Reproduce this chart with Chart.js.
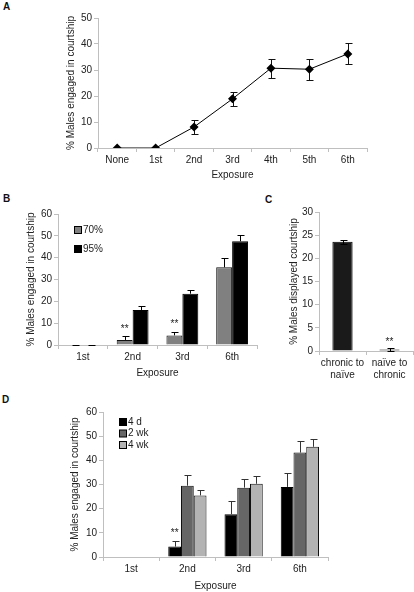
<!DOCTYPE html>
<html>
<head>
<meta charset="utf-8">
<script src="https://cdn.jsdelivr.net/npm/chart.js@4"></script>
<style>
  body { margin: 0; background: #fff; width: 414px; height: 592px; position: relative; overflow: hidden; font-family: "Liberation Sans", Arial, sans-serif; }
  canvas { position: absolute; }
  .tag { position: absolute; font-weight: bold; font-size: 10px; color: #111; }
</style>
</head>
<body>
<div class="tag" style="left:3px;top:1px">A</div>
<div class="tag" style="left:3px;top:193px">B</div>
<div class="tag" style="left:265px;top:194px">C</div>
<div class="tag" style="left:2px;top:394px">D</div>
<canvas id="chartA" width="349" height="181" style="left:65px;top:0px"></canvas>
<canvas id="chartB" width="245" height="189" style="left:25px;top:190px"></canvas>
<canvas id="chartC" width="126" height="195" style="left:288px;top:190px"></canvas>
<canvas id="chartD" width="280" height="200" style="left:69px;top:392px"></canvas>
<script>
// ==== Data ====
const yTitle = '% Males engaged in courtship';

// panel A
const exposureA = ['None', '1st', '2nd', '3rd', '4th', '5th', '6th'];
const courtshipA = [0, 0, 8.1, 18.9, 30.7, 30.3, 36.2];
const errA = [null, null, 2.6, 2.6, 3.7, 4.1, 4.0];

// panel B
const exposureB = ['1st', '2nd', '3rd', '6th'];
const seriesB = ['70%', '95%'];
const b70 = [0, 2.3, 4.4, 35.6];
const b95 = [0, 16.0, 23.5, 47.5];
const err70 = [0, 1.8, 1.7, 4.1];
const err95 = [0, 1.9, 1.7, 2.7];

// panel C
const groupsC = [['chronic to', 'naïve'], ['naïve to', 'chronic']];
const courtshipC = [23.6, 0.35];
const errC = [0.4, 0.25];

// panel D
const exposureD = ['1st', '2nd', '3rd', '6th'];
const seriesD = ['4 d', '2 wk', '4 wk'];
const d4d = [0, 4.3, 17.7, 29.0];
const d2wk = [0, 29.5, 28.7, 43.2];
const d4wk = [0, 25.5, 30.3, 45.6];
const err4d = [null, 2.5, 5.6, 5.6];
const err2wk = [null, 4.3, 3.7, 4.9];
const err4wk = [null, 2.1, 3.2, 3.1];

// ==== Defaults ====
Chart.defaults.font.family = '"Liberation Sans", Arial, sans-serif';
Chart.defaults.font.size = 10;
Chart.defaults.color = '#222';
const axisGrey = '#bfbfbf';

// ==== Plugins ====
// error bars from data + error arrays, through the scales
const errorBars = {
    id: 'errorBars',
    draw(chart, opts) {
        const ctx = chart.ctx;
        const y = chart.scales.y;
        ctx.save();
        ctx.strokeStyle = opts.color || '#000';
        ctx.lineWidth = 1;
        opts.errors.forEach((errs, d) => {
            const meta = chart.getDatasetMeta(d);
            const data = chart.data.datasets[d].data;
            meta.data.forEach((el, i) => {
                const e = errs[i];
                if (e == null) return;
                const x = Math.round(el.x) + 0.5;
                const top = Math.round(y.getPixelForValue(data[i] + e)) + 0.5;
                const bot = opts.both ? Math.round(y.getPixelForValue(data[i] - e)) + 0.5 : el.y;
                const c = opts.cap || 3;
                ctx.beginPath();
                ctx.moveTo(x, top); ctx.lineTo(x, bot);
                ctx.moveTo(x - c, top); ctx.lineTo(x + c + 1, top);
                if (opts.both) { ctx.moveTo(x - c, bot); ctx.lineTo(x + c + 1, bot); }
                ctx.stroke();
            });
        });
        ctx.restore();
    },
    beforeDatasetsDraw(chart, args, opts) { if (opts.under) this.draw(chart, opts); },
    afterDatasetsDraw(chart, args, opts) { if (!opts.under) this.draw(chart, opts); }
};

// significance stars above the error bars
const stars = {
    id: 'stars',
    afterDatasetsDraw(chart, args, opts) {
        if (!opts.items) return;
        const ctx = chart.ctx;
        const y = chart.scales.y;
        ctx.save();
        ctx.font = '10px "Liberation Sans", Arial, sans-serif';
        ctx.fillStyle = '#222';
        ctx.textAlign = 'center';
        ctx.textBaseline = 'bottom';
        opts.items.forEach(it => {
            const el = chart.getDatasetMeta(it.dataset).data[it.index];
            const v = chart.data.datasets[it.dataset].data[it.index] + (it.err || 0);
            ctx.fillText('**', el.x, y.getPixelForValue(v) - (it.gap || 1));
        });
        ctx.restore();
    }
};

// boxed legend inside the plot area
const boxLegend = {
    id: 'boxLegend',
    afterDraw(chart, args, opts) {
        if (!opts.dx) return;
        const ctx = chart.ctx;
        const a = chart.chartArea;
        ctx.save();
        ctx.font = '10px "Liberation Sans", Arial, sans-serif';
        ctx.textBaseline = 'middle';
        chart.data.datasets.forEach((ds, i) => {
            const x = a.left + opts.dx;
            const yy = a.top + opts.dy + i * opts.gap;
            ctx.fillStyle = ds.backgroundColor;
            ctx.fillRect(x - 3.5, yy - 3.5, 7, 7);
            ctx.strokeStyle = '#000';
            ctx.lineWidth = 1;
            ctx.strokeRect(x - 3.5, yy - 3.5, 7, 7);
            ctx.fillStyle = '#222';
            ctx.fillText(ds.label, x + 5, yy);
        });
        ctx.restore();
    }
};

Chart.register(errorBars, stars, boxLegend);

function scalesFor(yMax, yStep, yWidth, xHeight, lineChart) {
    return {
        x: {
            offset: true,
            grid: { offset: true, drawOnChartArea: false, color: axisGrey, tickLength: 4 },
            border: { color: axisGrey },
            ticks: { padding: 2, maxRotation: 0, autoSkip: false },
            title: { display: true, text: 'Exposure', padding: 0 },
            afterFit: s => { s.height = xHeight; }
        },
        y: {
            min: 0, max: yMax,
            grid: { drawOnChartArea: false, color: axisGrey, tickLength: 4 },
            border: { color: axisGrey },
            ticks: { stepSize: yStep, padding: 2 },
            title: { display: true, text: yTitle, padding: 0 },
            afterFit: s => { s.width = yWidth; }
        }
    };
}

// ==== Panel A ====
const scA = scalesFor(50, 10, 33, 33, true);
new Chart(document.getElementById('chartA'), {
    type: 'line',
    data: {
        labels: exposureA,
        datasets: [{
            label: 'courtship',
            data: courtshipA,
            borderColor: '#000',
            borderWidth: 1,
            backgroundColor: '#000',
            pointStyle: 'rectRot',
            pointRadius: 4.5,
            pointBorderWidth: 0,
            tension: 0
        }]
    },
    options: {
        responsive: false,
        animation: false,
        layout: { padding: { left: 0, top: 18, right: 47, bottom: 0 } },
        scales: scA,
        plugins: {
            legend: { display: false },
            tooltip: { enabled: false },
            errorBars: { errors: [errA], both: true, under: true, cap: 3, color: '#111' }
        }
    }
});

// ==== Panel B ====
new Chart(document.getElementById('chartB'), {
    type: 'bar',
    data: {
        labels: exposureB,
        datasets: [
            { label: seriesB[0], data: b70, backgroundColor: '#808080', borderColor: '#111', borderWidth: 1, borderSkipped: 'bottom' },
            { label: seriesB[1], data: b95, backgroundColor: '#000', borderColor: '#000', borderWidth: 1, borderSkipped: 'bottom' }
        ]
    },
    options: {
        responsive: false,
        animation: false,
        layout: { padding: { left: 0, top: 24, right: 13, bottom: 0 } },
        datasets: { bar: { categoryPercentage: 0.64, barPercentage: 1.0 } },
        scales: scalesFor(60, 10, 33, 34),
        plugins: {
            legend: { display: false },
            tooltip: { enabled: false },
            errorBars: { errors: [err70, err95], both: false, cap: 3 },
            stars: { items: [{ dataset: 0, index: 1, err: err70[1], gap: 2 }, { dataset: 0, index: 2, err: err70[2], gap: 2 }] },
            boxLegend: { dx: 20, dy: 16, gap: 19 }
        }
    }
});

// ==== Panel C ====
const scC = scalesFor(30, 5, 31, 34);
scC.x.title.display = false;
scC.y.title.text = '% Males displayed courtship';
new Chart(document.getElementById('chartC'), {
    type: 'bar',
    data: {
        labels: groupsC,
        datasets: [{ label: 'courtship', data: courtshipC, backgroundColor: '#1a1a1a', borderColor: '#000', borderWidth: 1, borderSkipped: 'bottom' }]
    },
    options: {
        responsive: false,
        animation: false,
        layout: { padding: { left: 0, top: 22, right: 1, bottom: 0 } },
        datasets: { bar: { categoryPercentage: 0.43, barPercentage: 1.0 } },
        scales: scC,
        plugins: {
            legend: { display: false },
            tooltip: { enabled: false },
            errorBars: { errors: [errC], both: true, cap: 3 },
            stars: { items: [{ dataset: 0, index: 1, err: errC[1], gap: 1 }] }
        }
    }
});

// ==== Panel D ====
new Chart(document.getElementById('chartD'), {
    type: 'bar',
    data: {
        labels: exposureD,
        datasets: [
            { label: seriesD[0], data: d4d, backgroundColor: '#000', borderColor: '#000', borderWidth: 1, borderSkipped: 'bottom' },
            { label: seriesD[1], data: d2wk, backgroundColor: '#666666', borderColor: '#111', borderWidth: 1, borderSkipped: 'bottom' },
            { label: seriesD[2], data: d4wk, backgroundColor: '#b3b3b3', borderColor: '#111', borderWidth: 1, borderSkipped: 'bottom' }
        ]
    },
    options: {
        responsive: false,
        animation: false,
        layout: { padding: { left: 0, top: 20, right: 21, bottom: 0 } },
        datasets: { bar: { categoryPercentage: 0.68, barPercentage: 1.0 } },
        scales: scalesFor(60, 10, 34, 35),
        plugins: {
            legend: { display: false },
            tooltip: { enabled: false },
            errorBars: { errors: [err4d, err2wk, err4wk], both: false, cap: 3, color: '#333' },
            stars: { items: [{ dataset: 0, index: 1, err: err4d[1], gap: 2 }] },
            boxLegend: { dx: 20, dy: 10, gap: 11.5 }
        }
    }
});
</script>
</body>
</html>
